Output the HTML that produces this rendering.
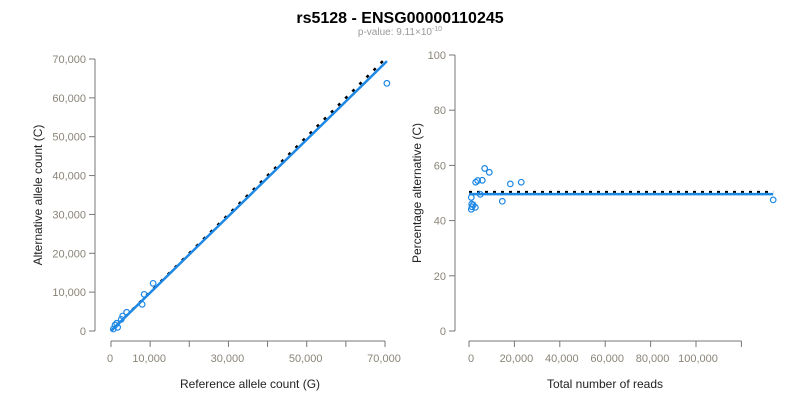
<!DOCTYPE html>
<html><head><meta charset="utf-8"><style>
body{margin:0;background:#fff;width:800px;height:400px;overflow:hidden;font-family:"Liberation Sans",Arial,sans-serif}
text{font-family:"Liberation Sans",Arial,sans-serif}
</style></head><body>
<svg id="chart" width="800" height="400" viewBox="0 0 800 400" xmlns="http://www.w3.org/2000/svg">
<text x="400" y="23" text-anchor="middle" font-size="16" font-weight="bold" fill="#000">rs5128 - ENSG00000110245</text>
<text x="400" y="35" text-anchor="middle" font-size="10" fill="#999">p-value: 9.11×10<tspan dy="-4" font-size="7">-10</tspan></text>
<g id="left"></g>
<g id="right"></g>
</svg>
<script>
const leftRef=[10760,8470,7960,3990,2980,2620,1700,1450,1020,590,70480];
const leftAlt=[12260,9430,6860,4810,3860,3000,950,1980,1540,510,63750];
const leftXTicks=[0,10000,20000,30000,40000,50000,60000,70000];
const leftXLabels=["0","10,000","","30,000","","50,000","","70,000"];
const leftYTicks=[0,10000,20000,30000,40000,50000,60000,70000];
const leftFitSlope=0.985;
const rightTotal=[6900,8940,2950,3830,5860,18200,23000,4980,1010,14670,1190,1890,1010,2780,1320,134000];
const rightPct=[58.9,57.5,53.9,54.5,54.6,53.3,53.9,49.5,48.4,47,46,45.7,44.1,44.8,45,47.5];
const rightXTicks=[0,20000,40000,60000,80000,100000,120000];
const rightXLabels=["0","20,000","40,000","60,000","80,000","100,000",""];
const rightYTicks=[0,20,40,60,80,100];
const rightFit=49.6, rightNull=50.4;
const NS="http://www.w3.org/2000/svg";
function mk(p,tag,attrs,txt){const e=document.createElementNS(NS,tag);for(const k in attrs)e.setAttribute(k,attrs[k]);if(txt!==undefined)e.textContent=txt;p.appendChild(e);return e;}
const fmt=v=>v.toLocaleString('en-US');
const AX="#777",LB="#8a8478";
// left
const L=document.getElementById('left');
const lx=v=>111+v*274/70000, ly=v=>331-v*272/70000;
let e=mk(L,'line',{x1:111,x2:385,y1:341,y2:341,stroke:AX});


leftXTicks.forEach((t,i)=>{mk(L,'line',{x1:lx(t),x2:lx(t),y1:341,y2:347,stroke:AX});
 const tt=mk(L,'text',{x:lx(t)-1,y:362,'text-anchor':'middle','font-size':11,fill:LB},leftXLabels[i]);
 
 });
e=mk(L,'line',{x1:95,x2:95,y1:ly(0),y2:ly(70000),stroke:AX});


leftYTicks.forEach(t=>{mk(L,'line',{x1:89,x2:95,y1:ly(t),y2:ly(t),stroke:AX});
 const tt=mk(L,'text',{x:86,y:ly(t)+4,'text-anchor':'end','font-size':11,fill:LB},fmt(t));
 
 });
e=mk(L,'text',{x:250,y:388,'text-anchor':'middle','font-size':12,fill:'#222'},'Reference allele count (G)');


e=mk(L,'text',{x:42,y:195,'text-anchor':'middle','font-size':12,fill:'#222',transform:'rotate(-90 42 195)'},'Alternative allele count (C)');


e=mk(L,'line',{x1:lx(0),y1:ly(0),x2:lx(70400),y2:ly(70400),stroke:'#000','stroke-width':2.5,'stroke-dasharray':'3 7'});


e=mk(L,'line',{x1:lx(0),y1:ly(0),x2:lx(70500),y2:ly(70500*leftFitSlope),stroke:'#1e88e5','stroke-width':2.5});


leftRef.forEach((r,i)=>{const c=mk(L,'circle',{cx:lx(r),cy:ly(leftAlt[i]),r:2.8,fill:'none',stroke:'#1e88e5','stroke-width':1.2});
 
 });
// right
const R=document.getElementById('right');
const rx=v=>469+v*227/100000, ry=v=>331-v*2.76;
e=mk(R,'line',{x1:469,x2:rx(120000),y1:341,y2:341,stroke:AX});


rightXTicks.forEach((t,i)=>{mk(R,'line',{x1:rx(t),x2:rx(t),y1:341,y2:347,stroke:AX});
 const tt=mk(R,'text',{x:rx(t)+2,y:362,'text-anchor':'middle','font-size':11,fill:LB},rightXLabels[i]);
 
 });
e=mk(R,'line',{x1:455,x2:455,y1:ry(0),y2:ry(100),stroke:AX});


rightYTicks.forEach(t=>{mk(R,'line',{x1:449,x2:455,y1:ry(t),y2:ry(t),stroke:AX});
 const tt=mk(R,'text',{x:446,y:ry(t)+4,'text-anchor':'end','font-size':11,fill:LB},String(t));
 
 });
e=mk(R,'text',{x:605,y:388,'text-anchor':'middle','font-size':12,fill:'#222'},'Total number of reads');


e=mk(R,'text',{x:421,y:193,'text-anchor':'middle','font-size':12,fill:'#222',transform:'rotate(-90 421 193)'},'Percentage alternative (C)');


e=mk(R,'line',{x1:rx(0),y1:ry(rightNull),x2:rx(134000),y2:ry(rightNull),stroke:'#000','stroke-width':2,'stroke-dasharray':'3 5'});


e=mk(R,'line',{x1:rx(0),y1:ry(rightFit),x2:rx(134000),y2:ry(rightFit),stroke:'#1e88e5','stroke-width':2.5});


rightTotal.forEach((t,i)=>{const c=mk(R,'circle',{cx:rx(t),cy:ry(rightPct[i]),r:2.8,fill:'none',stroke:'#1e88e5','stroke-width':1.2});
 
 });
</script>
</body></html>
